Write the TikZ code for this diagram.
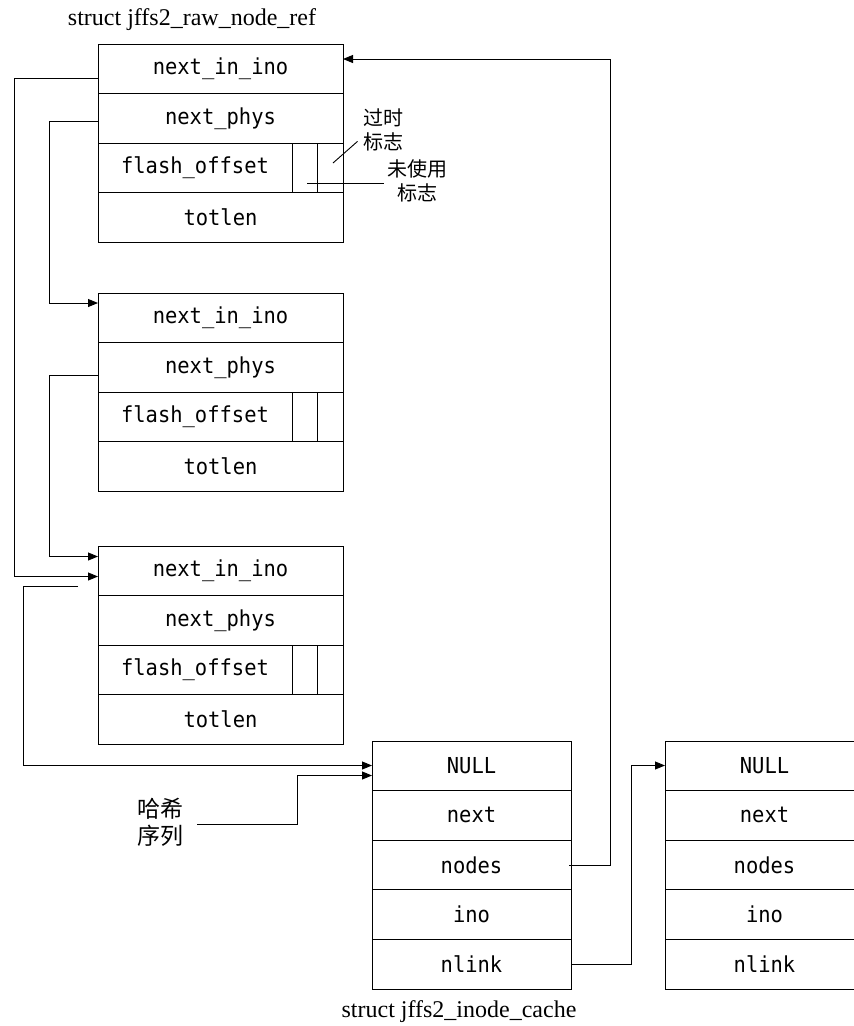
\documentclass[tikz,border=0pt]{standalone}
\usepackage{fontspec}
\setmainfont{Liberation Serif}
\newfontfamily\mono[FakeStretch=0.93]{DejaVu Sans Mono}
\newfontfamily\cjk{Noto Sans CJK SC}
\usetikzlibrary{arrows.meta,calc}
\begin{document}
\begin{tikzpicture}[x=1pt,y=1pt,line width=0.9pt,
  field/.style={draw, minimum width=245pt, minimum height=49.6pt, inner sep=0pt, outer sep=0pt, anchor=north west, font=\fontsize{22}{26}\mono},
  cfield/.style={field, minimum width=199pt},
  offs/.style={draw, minimum width=194pt, minimum height=49.6pt, inner sep=0pt, outer sep=0pt, anchor=north west, font=\fontsize{22}{26}\mono},
  flag/.style={draw, minimum width=25.5pt, minimum height=49.6pt, inner sep=0pt, outer sep=0pt, anchor=north west},
  conn/.style={-{Triangle[length=10pt,width=8pt]}},
  ttl/.style={font=\fontsize{24}{28}\selectfont},
  note/.style={font=\fontsize{20}{23.5}\cjk, align=center, inner sep=3pt},
  hashlbl/.style={font=\fontsize{23}{27}\cjk, align=center, inner sep=0pt}]
\useasboundingbox (0,0) rectangle (854,-1026);
\begin{scope}
\clip (0,0) rectangle (854,-1026);
% titles
\node[ttl] (t1) at (192,-20) {struct jffs2\_raw\_node\_ref};
\node[ttl] (t2) at (459,-1012) {struct jffs2\_inode\_cache};
% raw node ref 1
\node[field] (r1a) at (98,-44) {next\_in\_ino};
\node[field] (r1b) at (r1a.south west) {next\_phys};
\node[offs] (r1c) at (r1b.south west) {flash\_offset};
\node[flag] (r1d) at (r1c.north east) {};
\node[flag] (r1e) at (r1d.north east) {};
\node[field] (r1f) at (r1c.south west) {totlen};
% raw node ref 2
\node[field] (r2a) at (98,-293) {next\_in\_ino};
\node[field] (r2b) at (r2a.south west) {next\_phys};
\node[offs] (r2c) at (r2b.south west) {flash\_offset};
\node[flag] (r2d) at (r2c.north east) {};
\node[flag] (r2e) at (r2d.north east) {};
\node[field] (r2f) at (r2c.south west) {totlen};
% raw node ref 3
\node[field] (r3a) at (98,-546) {next\_in\_ino};
\node[field] (r3b) at (r3a.south west) {next\_phys};
\node[offs] (r3c) at (r3b.south west) {flash\_offset};
\node[flag] (r3d) at (r3c.north east) {};
\node[flag] (r3e) at (r3d.north east) {};
\node[field] (r3f) at (r3c.south west) {totlen};
% inode cache
\node[cfield] (ca) at (372,-741) {NULL};
\node[cfield] (cb) at (ca.south west) {next};
\node[cfield] (cc) at (cb.south west) {nodes};
\node[cfield] (cd) at (cc.south west) {ino};
\node[cfield] (ce) at (cd.south west) {nlink};
% second inode cache (cut off)
\node[cfield] (da) at (665,-741) {NULL};
\node[cfield] (db) at (da.south west) {next};
\node[cfield] (dc) at (db.south west) {nodes};
\node[cfield] (dd) at (dc.south west) {ino};
\node[cfield] (de) at (dd.south west) {nlink};
% annotations
\node[note] (obs) at (383,-130) {过时\\标志};
\node[note] (unused) at (417,-181) {未使用\\标志};
\coordinate (o1) at (333,-163);
\coordinate (u1) at (307,-183);
\draw (o1) -- ($(obs.south west)+(-2,13)$);
\draw (u1) -- (unused.west |- u1);
\node[hashlbl] (hash) at (160,-822) {哈希\\序列};
% connectors
\draw[conn] ($(r1a.north west)+(0,-34)$) -- ++(-84,0) |- ($(r3a.north west)+(0,-30.5)$);
\draw[conn] ($(r1b.north west)+(0,-27.5)$) -- ++(-49,0) |- ($(r2a.north west)+(0,-10)$);
\draw[conn] ($(r2b.north west)+(0,-32.5)$) -- ++(-49,0) |- ($(r3a.north west)+(0,-10.5)$);
\coordinate (c4) at (78,-586.5);
\draw[conn] (c4) -- ++(-55,0) |- ($(ca.north west)+(0,-24.5)$);
\draw[conn] ($(hash.east)+(14,-2)$) -- ++(100,0) |- ($(ca.north west)+(0,-34.5)$);
\draw[conn] ($(cc.east)+(-2,0)$) -- ++(41,0) |- ($(r1a.north east)+(0,-15)$);
\draw[conn] (ce.east) -- ++(60.5,0) |- ($(da.north west)+(0,-24.5)$);
\end{scope}
\end{tikzpicture}
\end{document}
